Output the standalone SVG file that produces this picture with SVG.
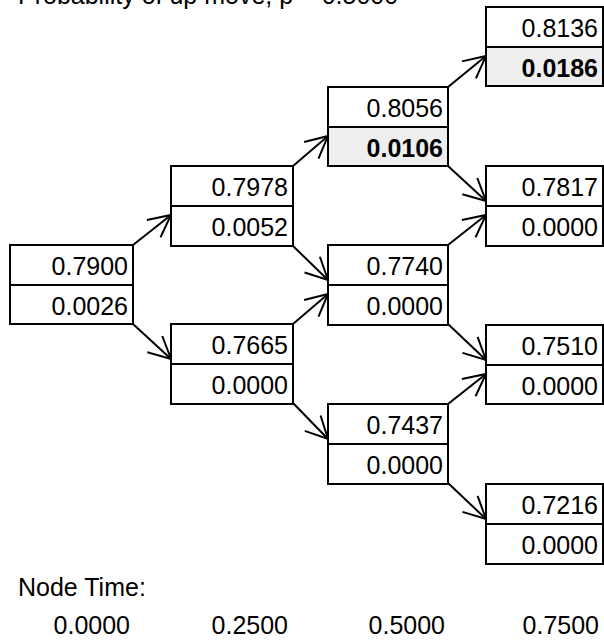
<svg xmlns="http://www.w3.org/2000/svg" width="604" height="642" viewBox="0 0 604 642">
<style>
  .box { fill: #ffffff; stroke: #000; stroke-width: 2; }
  .shade { fill: #eeeeee; stroke: #000; stroke-width: 2; }
  .div { stroke: #000; stroke-width: 2; }
  .val { font-family: "Liberation Sans", Arial, sans-serif; font-size: 25px; fill: #000; text-anchor: end; }
  .bold { font-weight: bold; }
  .lbl { font-family: "Liberation Sans", Arial, sans-serif; font-size: 25px; fill: #000; }
  .conn { stroke: #000; stroke-width: 2; fill: none; marker-end: url(#arr); }
</style>
<defs>
  <marker id="arr" markerUnits="userSpaceOnUse" markerWidth="30" markerHeight="30" refX="0" refY="0" orient="auto" overflow="visible" viewBox="-30 -15 30 30">
    <path d="M-22,-11 L0,0 L-22,11" fill="none" stroke="#000" stroke-width="2"/>
  </marker>
</defs>
<rect width="604" height="642" fill="#fff"/>
<text class="lbl" x="18" y="4">Probability of up move, p = 0.5000</text>

<g id="connectors">
  <line class="conn" x1="133" y1="245" x2="171" y2="215"/>
  <line class="conn" x1="133" y1="324" x2="171" y2="359"/>
  <line class="conn" x1="293" y1="166" x2="328" y2="136"/>
  <line class="conn" x1="293" y1="246" x2="328" y2="280"/>
  <line class="conn" x1="293" y1="324" x2="328" y2="294"/>
  <line class="conn" x1="293" y1="403" x2="328" y2="439"/>
  <line class="conn" x1="448" y1="87" x2="486" y2="56"/>
  <line class="conn" x1="448" y1="166" x2="486" y2="201"/>
  <line class="conn" x1="448" y1="245" x2="486" y2="215"/>
  <line class="conn" x1="448" y1="324" x2="486" y2="360"/>
  <line class="conn" x1="448" y1="404" x2="486" y2="374"/>
  <line class="conn" x1="448" y1="483" x2="486" y2="519"/>
</g>

<g id="n0">
  <rect class="box" x="10" y="245" width="123" height="79"/>
  <line class="div" x1="10" y1="285" x2="133" y2="285"/>
  <text class="val" x="128" y="275">0.7900</text>
  <text class="val" x="128" y="315">0.0026</text>
</g>
<g id="n1">
  <rect class="box" x="171" y="166" width="122" height="80"/>
  <line class="div" x1="171" y1="206" x2="293" y2="206"/>
  <text class="val" x="288" y="196">0.7978</text>
  <text class="val" x="288" y="236">0.0052</text>
</g>
<g id="n2">
  <rect class="box" x="171" y="324" width="122" height="80"/>
  <line class="div" x1="171" y1="364" x2="293" y2="364"/>
  <text class="val" x="288" y="354">0.7665</text>
  <text class="val" x="288" y="394">0.0000</text>
</g>
<g id="n3">
  <rect class="box" x="328" y="87" width="120" height="79"/>
  <rect class="shade" x="328" y="127" width="120" height="39"/>
  <text class="val" x="443" y="117">0.8056</text>
  <text class="val bold" x="443" y="157">0.0106</text>
</g>
<g id="n4">
  <rect class="box" x="328" y="245" width="120" height="80"/>
  <line class="div" x1="328" y1="285" x2="448" y2="285"/>
  <text class="val" x="443" y="275">0.7740</text>
  <text class="val" x="443" y="315">0.0000</text>
</g>
<g id="n5">
  <rect class="box" x="328" y="404" width="120" height="80"/>
  <line class="div" x1="328" y1="444" x2="448" y2="444"/>
  <text class="val" x="443" y="434">0.7437</text>
  <text class="val" x="443" y="474">0.0000</text>
</g>
<g id="n6">
  <rect class="box" x="486" y="7" width="117" height="79"/>
  <rect class="shade" x="486" y="47" width="117" height="39"/>
  <text class="val" x="598" y="37">0.8136</text>
  <text class="val bold" x="598" y="77">0.0186</text>
</g>
<g id="n7">
  <rect class="box" x="486" y="166" width="117" height="80"/>
  <line class="div" x1="486" y1="206" x2="603" y2="206"/>
  <text class="val" x="598" y="196">0.7817</text>
  <text class="val" x="598" y="236">0.0000</text>
</g>
<g id="n8">
  <rect class="box" x="486" y="325" width="117" height="79"/>
  <line class="div" x1="486" y1="365" x2="603" y2="365"/>
  <text class="val" x="598" y="355">0.7510</text>
  <text class="val" x="598" y="395">0.0000</text>
</g>
<g id="n9">
  <rect class="box" x="486" y="484" width="117" height="80"/>
  <line class="div" x1="486" y1="524" x2="603" y2="524"/>
  <text class="val" x="598" y="514">0.7216</text>
  <text class="val" x="598" y="554">0.0000</text>
</g>

<g id="time-axis">
  <text class="lbl" x="18" y="596">Node Time:</text>
  <text class="val" x="130" y="634">0.0000</text>
  <text class="val" x="288" y="634">0.2500</text>
  <text class="val" x="445" y="634">0.5000</text>
  <text class="val" x="599" y="634">0.7500</text>
</g>
</svg>
